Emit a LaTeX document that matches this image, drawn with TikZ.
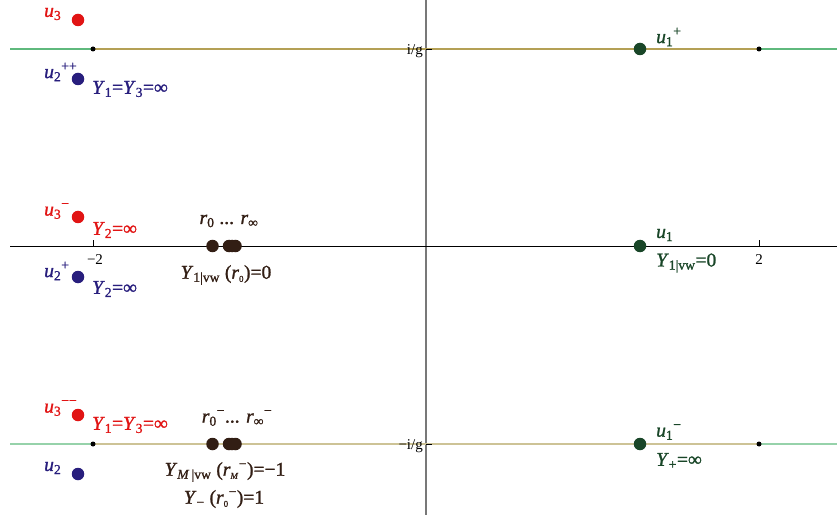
\documentclass[tikz,border=0pt]{standalone}
\usepackage{fontspec}
\setmainfont{Liberation Serif}
\newfontfamily\lblfont{Liberation Serif}[FakeBold=1.2,ItalicFeatures={FakeBold=1.2}]
\definecolor{cred}{RGB}{225,20,20}
\definecolor{cblue}{RGB}{40,30,125}
\definecolor{cgreen}{RGB}{25,70,40}
\definecolor{cbrown}{RGB}{50,30,20}
\definecolor{lgreen}{RGB}{95,185,125}
\definecolor{lgreenb}{RGB}{150,210,170}
\definecolor{olive}{RGB}{180,160,85}
\definecolor{oliveb}{RGB}{205,195,150}
\definecolor{axgray}{RGB}{120,120,120}
\newcommand{\sbs}[1]{\textsubscript{#1}}
\newcommand{\sps}[1]{\textsuperscript{#1}}
\newcommand{\tinysub}[1]{\textsubscript{\fontsize{9}{9}\selectfont #1}}
\begin{document}
\begin{tikzpicture}[x=1pt,y=-1pt,
  bigdot/.style={circle,inner sep=0pt,minimum size=12.5pt},
  smalldot/.style={circle,fill=black,inner sep=0pt,minimum size=5pt},
  lab/.style={inner sep=0pt,font=\fontsize{19.5}{19.5}\selectfont\lblfont},
  small/.style={inner sep=0pt,font=\fontsize{15}{15}\selectfont}]
\useasboundingbox (0,0) rectangle (837,521);
% vertical axis
\coordinate (vt) at (426,0);
\coordinate (vb) at (426,515);
\draw[axgray,line width=1.3pt] (vt) -- (vb);
% real axis
\coordinate (ml) at (10,246);
\coordinate (mr) at (837,246);
\draw[black,line width=1pt] (ml) -- (mr);
\coordinate (tkA) at (93,246); \coordinate (tkA2) at (93,240);
\coordinate (tkB) at (759,246); \coordinate (tkB2) at (759,240);
\draw[black,line width=0.8pt] (tkA) -- (tkA2);
\draw[black,line width=0.8pt] (tkB) -- (tkB2);
% top line
\coordinate (tl) at (10,49); \coordinate (tr) at (837,49);
\coordinate (ta) at (93,49);
\coordinate (tb) at (759,49);
\draw[lgreen,line width=1.2pt] (tl) -- (ta);
\draw[olive,line width=1.2pt] (ta) -- (tb);
\draw[lgreen,line width=1.2pt] (tb) -- (tr);
% bottom line
\coordinate (bl) at (10,444); \coordinate (br) at (837,444);
\coordinate (ba) at (93,444);
\coordinate (bb) at (759,444);
\draw[lgreenb,line width=1.2pt] (bl) -- (ba);
\draw[oliveb,line width=1.2pt] (ba) -- (bb);
\draw[lgreenb,line width=1.2pt] (bb) -- (br);
\node[smalldot] (dta) at (ta) {};
\node[smalldot] (dtb) at (tb) {};
\node[smalldot] (dba) at (ba) {};
\node[smalldot] (dbb) at (bb) {};
% ticks on imaginary axis
\coordinate (ig1) at (426,49); \coordinate (ig2) at (432,49);
\coordinate (mg1) at (426,444); \coordinate (mg2) at (432,444);
\draw[black,line width=0.8pt] (ig1) -- (ig2);
\draw[black,line width=0.8pt] (mg1) -- (mg2);
\node[small,anchor=east] (ig) at (423,51) {i/g};
\node[small,anchor=east] (mig) at (423,446) {−i/g};
\node[small] (m2) at (95,260) {−2};
\node[small] (p2) at (759,260) {2};
% red dots
\node[bigdot,fill=cred] (u3) at (78,20) {};
\node[bigdot,fill=cred] (u3m) at (78,217) {};
\node[bigdot,fill=cred] (u3mm) at (78,415) {};
% blue dots
\node[bigdot,fill=cblue] (u2pp) at (78,79) {};
\node[bigdot,fill=cblue] (u2p) at (78,277) {};
\node[bigdot,fill=cblue] (u2) at (78,474) {};
% green dots
\node[bigdot,fill=cgreen] (u1p) at (640,49) {};
\node[bigdot,fill=cgreen] (u1) at (640,246) {};
\node[bigdot,fill=cgreen] (u1m) at (640,444) {};
% brown dots
\foreach \y/\n in {246/a,444/b}{
  \node[bigdot,fill=cbrown] (r0\n) at (212.5,\y) {};
  \node[bigdot,fill=cbrown] (r1\n) at (229,\y) {};
  \node[bigdot,fill=cbrown] (r2\n) at (232,\y) {};
  \node[bigdot,fill=cbrown] (r3\n) at (235.5,\y) {};
}
% labels red
\node[lab,cred,anchor=west] (lu3) at (44,14) {\textit{u}\sbs{3}};
\node[lab,cred,anchor=west] (lu3m) at (44,211) {\textit{u}\sbs{3}\sps{−}};
\node[lab,cred,anchor=west] (lu3mm) at (44,408) {\textit{u}\sbs{3}\sps{−−}};
\node[lab,cred,anchor=west] (ly2r) at (92,230) {\textit{Y}\sbs{2}=∞};
\node[lab,cred,anchor=west] (ly13r) at (92,425) {\textit{Y}\sbs{1}=\textit{Y}\sbs{3}=∞};
% labels blue
\node[lab,cblue,anchor=west] (lu2pp) at (44,72) {\textit{u}\sbs{2}\sps{++}};
\node[lab,cblue,anchor=west] (lu2p) at (44,271) {\textit{u}\sbs{2}\sps{+}};
\node[lab,cblue,anchor=west] (lu2) at (44,468) {\textit{u}\sbs{2}};
\node[lab,cblue,anchor=west] (ly13b) at (92,89) {\textit{Y}\sbs{1}=\textit{Y}\sbs{3}=∞};
\node[lab,cblue,anchor=west] (ly2b) at (92,289) {\textit{Y}\sbs{2}=∞};
% labels green
\node[lab,cgreen,anchor=west] (lu1p) at (656,37) {\textit{u}\sbs{1}\sps{+}};
\node[lab,cgreen,anchor=west] (lu1) at (656,235) {\textit{u}\sbs{1}};
\node[lab,cgreen,anchor=west] (ly1vw) at (656,263) {\textit{Y}\sbs{1|vw}=0};
\node[lab,cgreen,anchor=west] (lu1m) at (656,432) {\textit{u}\sbs{1}\sps{−}};
\node[lab,cgreen,anchor=west] (lyp) at (656,461) {\textit{Y}\sbs{+}=∞};
% labels brown
\node[lab,cbrown] (lr) at (229,221) {\textit{r}\sbs{0} ... \textit{r}\sbs{∞}};
\node[lab,cbrown] (lyr) at (226,275) {\textit{Y}\sbs{1|vw} (\textit{r}\tinysub{0})=0};
\node[lab,cbrown] (lrm) at (237,418) {\textit{r}\sbs{0}\sps{−}... \textit{r}\sbs{∞}\sps{−}};
\node[lab,cbrown] (lym) at (225,472) {\textit{Y}\sbs{\textit{M}\,|vw} (\textit{r}\tinysub{\textit{M}}\sps{−})=−1};
\node[lab,cbrown] (lyminus) at (224,499) {\textit{Y}\sbs{−} (\textit{r}\tinysub{0}\sps{−})=1};
\end{tikzpicture}
\end{document}
